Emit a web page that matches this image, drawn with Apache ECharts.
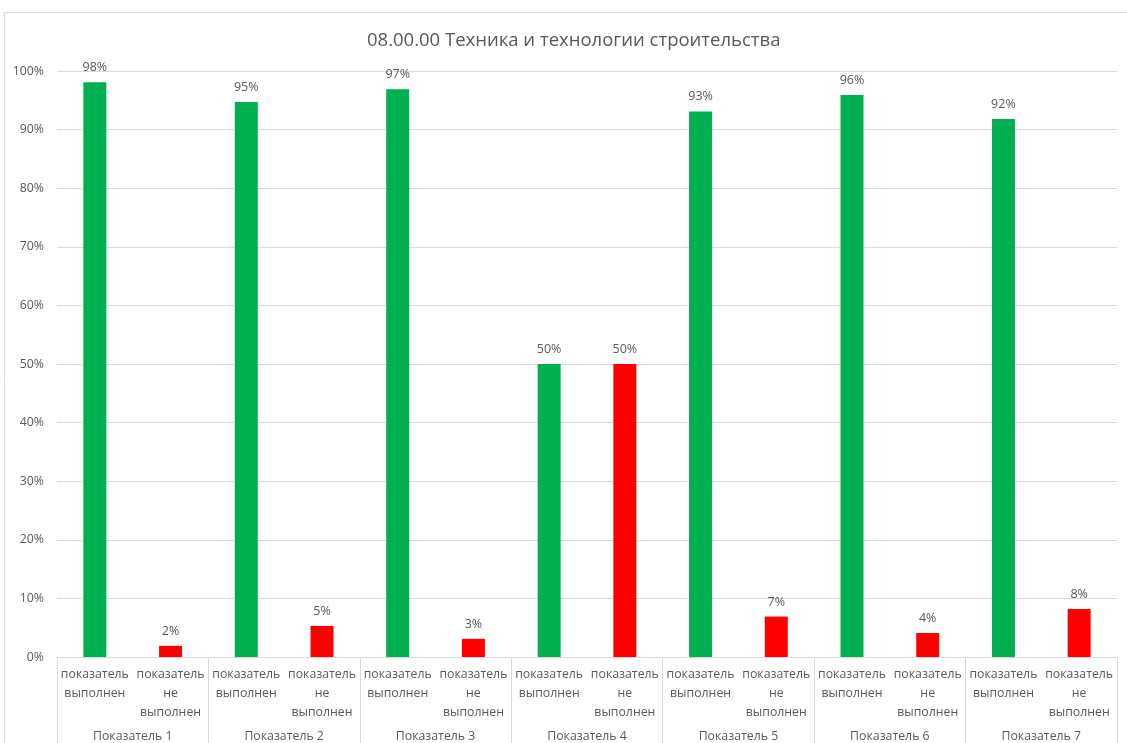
<!DOCTYPE html>
<html>
<head>
<meta charset="utf-8">
<script src="https://cdn.jsdelivr.net/npm/echarts@6/dist/echarts.min.js"></script>
<style>
html,body{margin:0;padding:0;background:#fff;}
#c{width:1127px;height:743px;}
</style>
</head>
<body>
<div id="c"></div>
<script>
const title = '08.00.00 Техника и технологии строительства';
const groups = ['Показатель 1','Показатель 2','Показатель 3','Показатель 4','Показатель 5','Показатель 6','Показатель 7'];
const subLabels = ['показатель\nвыполнен','показатель\nне\nвыполнен'];
const done = [98.1, 94.7, 96.9, 50.0, 93.1, 95.9, 91.8];
const notDone = [1.9, 5.3, 3.1, 50.0, 6.9, 4.1, 8.2];
const yTicks = [0,10,20,30,40,50,60,70,80,90,100];

const GREEN = '#00b050', RED = '#ff0000';
const cats = [], data = [];
groups.forEach((g, i) => {
  cats.push(subLabels[0]); data.push({value: done[i], itemStyle: {color: GREEN}});
  cats.push(subLabels[1]); data.push({value: notDone[i], itemStyle: {color: RED}});
});

const FONT = '"Open Sans", "Noto Sans", sans-serif';
const chart = echarts.init(document.getElementById('c'));
chart.setOption({
  animation: false,
  textStyle: {fontFamily: FONT},
  title: {
    text: title, left: 362, top: 26,
    textStyle: {fontSize: 18.5, fontWeight: 'normal', color: '#595959', fontFamily: FONT}
  },
  graphic: [{
    type: 'rect', shape: {x: 4.5, y: 12.5, width: 1200, height: 800},
    style: {fill: 'none', stroke: '#d9d9d9', lineWidth: 1}, silent: true, z: -1
  }],
  grid: {left: 57, right: 10, top: 71, bottom: 86},
  xAxis: [{
    type: 'category', data: cats, gridIndex: 0, position: 'bottom',
    axisLine: {show: true, lineStyle: {color: '#d9d9d9'}},
    axisTick: {show: false},
    axisLabel: {interval: 0, color: '#595959', fontSize: 12.3, lineHeight: 19, margin: 8, fontFamily: FONT}
  }, {
    type: 'category', data: groups, gridIndex: 0, position: 'bottom',
    axisLine: {show: false},
    axisTick: {show: true, length: 86, interval: 0, lineStyle: {color: '#d9d9d9'}},
    axisLabel: {interval: 0, color: '#595959', fontSize: 12.3, margin: 73, fontFamily: FONT}
  }],
  yAxis: {
    type: 'value', min: yTicks[0], max: yTicks[yTicks.length - 1], interval: 10,
    axisLine: {show: false}, axisTick: {show: false},
    axisLabel: {color: '#595959', fontSize: 12.3, margin: 13, formatter: v => v + '%', fontFamily: FONT},
    splitLine: {lineStyle: {color: '#d9d9d9'}}
  },
  series: [{
    type: 'bar', xAxisIndex: 0, data: data, barWidth: 23,
    label: {show: true, position: 'top', color: '#595959', fontSize: 12.5, distance: 8,
      formatter: p => Math.round(p.value) + '%', fontFamily: FONT}
  }]
});
</script>
</body>
</html>
